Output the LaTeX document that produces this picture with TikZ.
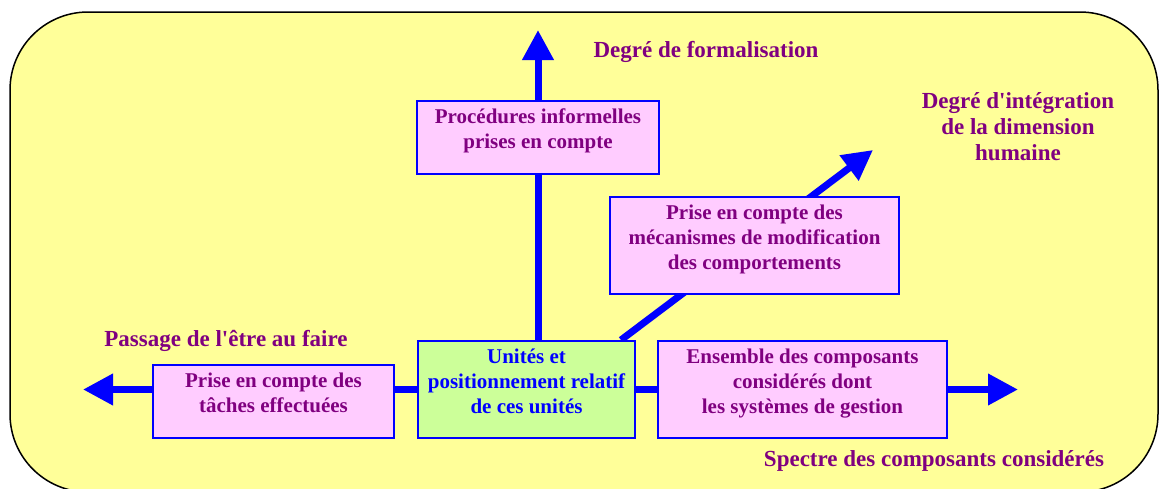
\documentclass[tikz,border=0pt]{standalone}
\usepackage{fontspec}
\setmainfont{Liberation Serif}
\usetikzlibrary{arrows.meta,calc}
\usepackage{xcolor}

\definecolor{fondjaune}{HTML}{FFFF99}
\definecolor{rose}{HTML}{FFCCFF}
\definecolor{vertclair}{HTML}{CCFF99}
\definecolor{violet}{HTML}{800080}

\pgfdeclarelayer{fond}
\pgfsetlayers{fond,main}

\tikzset{
  boite/.style={draw=blue,line width=2pt,fill=rose,inner sep=0pt},
  texteboite/.style={font=\bfseries\fontsize{21}{25}\selectfont,text=violet,
    align=center,anchor=north,inner sep=0pt,yshift=-8.5pt},
  axe/.style={blue,line width=7pt},
  titre/.style={font=\bfseries\fontsize{23}{26}\selectfont,text=violet,align=center}
}

\begin{document}
\begin{tikzpicture}[x=1pt,y=-1pt,>={Triangle[length=30pt,width=30pt]}]

  % Cadre de la figure
  \useasboundingbox (0,0) rectangle (1160,488);

  % Extrémités des axes
  \coordinate (formal) at (538,30);
  \coordinate (humain) at (873,150);
  \coordinate (gauche) at (83,389.5);
  \coordinate (droite) at (1018,389.5);

  % Boîtes
  \node[boite,fill=vertclair,minimum width=217pt,minimum height=97pt] (unites) at (526.5,389.5) {};
  \node[boite,minimum width=242pt,minimum height=73pt] (procedures) at (538,137.5) {};
  \node[boite,minimum width=289pt,minimum height=97pt] (mecanismes) at (754.5,245.5) {};
  \node[boite,minimum width=241pt,minimum height=73pt] (taches) at (273.5,401.5) {};
  \node[boite,minimum width=289pt,minimum height=97pt] (ensemble) at (802.5,389.5) {};

  % Textes des boîtes
  \node[texteboite,text=blue] (unites-t) at (unites.north) {Unités et\\positionnement relatif\\de ces unités};
  \node[texteboite] (procedures-t) at (procedures.north) {Procédures informelles\\prises en compte};
  \node[texteboite] (mecanismes-t) at (mecanismes.north) {Prise en compte des\\mécanismes de modification\\des comportements};
  \node[texteboite] (taches-t) at (taches.north) {Prise en compte des\\tâches effectuées};
  \node[texteboite] (ensemble-t) at (ensemble.north) {Ensemble des composants\\considérés dont\\les systèmes de gestion};

  % Noms des axes
  \node[titre] (t-formal) at (706,52) {Degré de formalisation};
  \node[titre] (t-humain) at (1018,127) {Degré d\textquotesingle intégration\\de la dimension\\humaine};
  \node[titre] (t-faire) at (226,341) {Passage de l\textquotesingle être au faire};
  \node[titre] (t-spectre) at (934,461) {Spectre des composants considérés};

  % Fond jaune et axes, derrière les boîtes
  \begin{pgfonlayer}{fond}
    \draw[line width=1.5pt,fill=fondjaune,rounded corners=78pt] (10,12) rectangle (1158,492);
    \draw[axe,->] (unites.north -| formal) -- (formal);
    \draw[axe,->] ($(unites.north east)+(-15,0)$) -- (humain);
    \draw[axe,->] (unites.west) -- (gauche);
    \draw[axe,->] (unites.east) -- (droite);
  \end{pgfonlayer}

\end{tikzpicture}
\end{document}
